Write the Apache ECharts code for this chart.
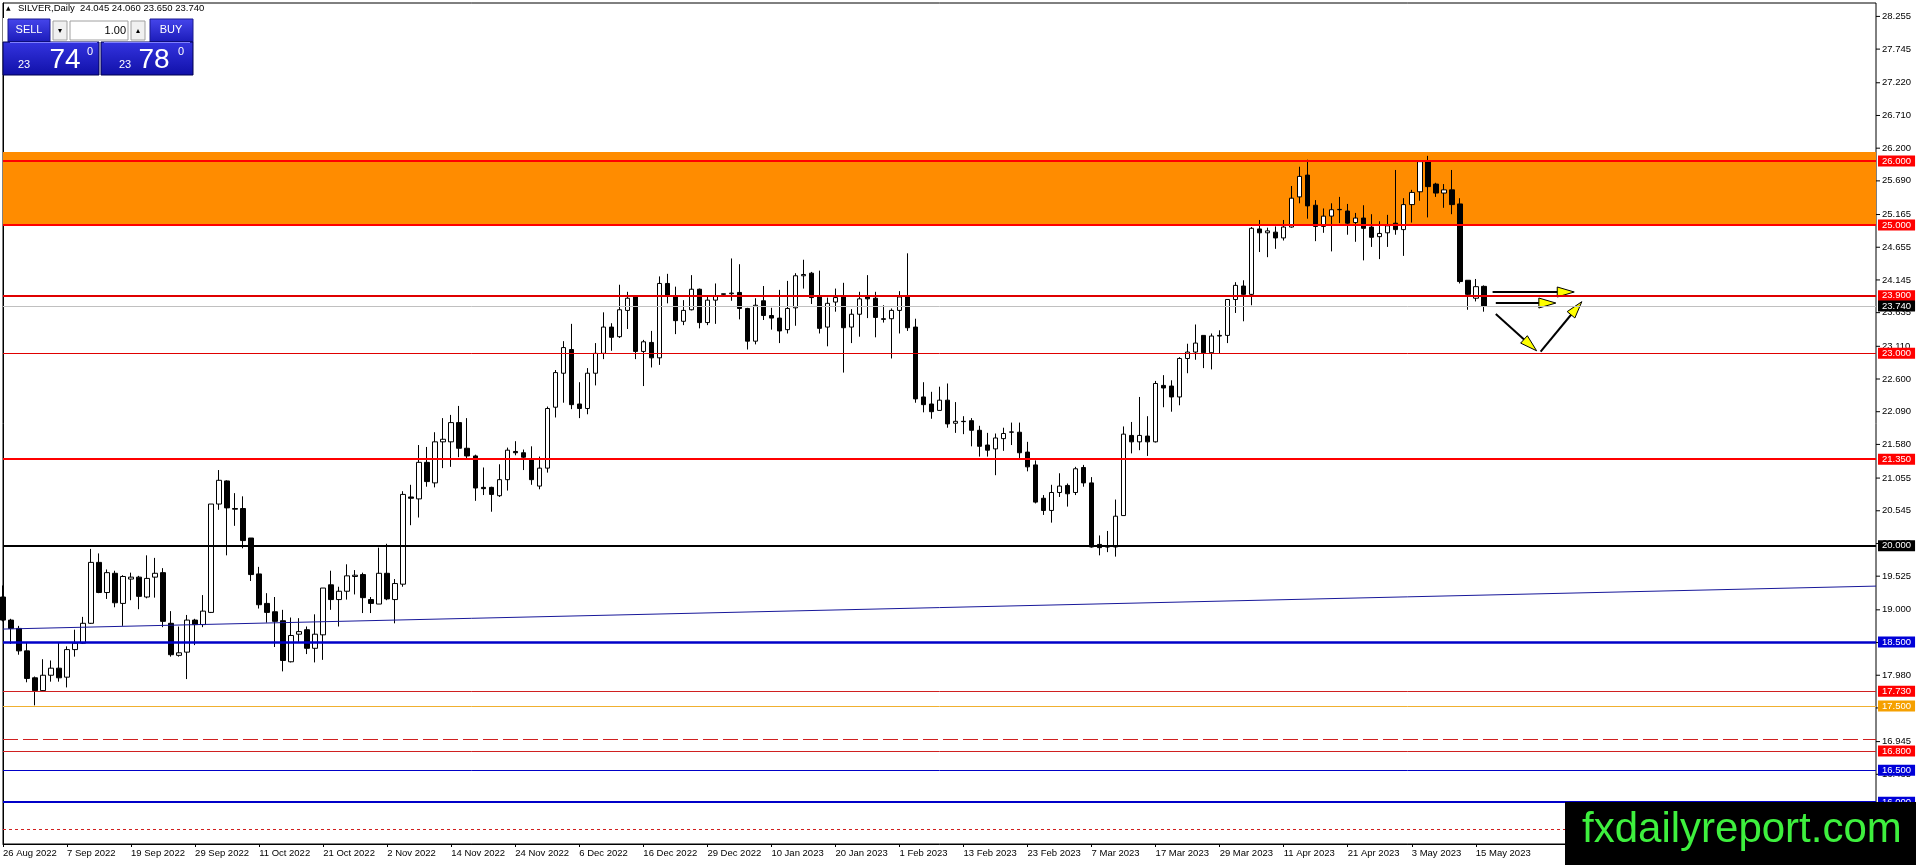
<!DOCTYPE html>
<html><head><meta charset="utf-8">
<script src="https://cdn.jsdelivr.net/npm/echarts@6/dist/echarts.min.js"></script>
<style>html,body{margin:0;padding:0;background:#fff;overflow:hidden}#c{width:1916px;height:865px}</style>
</head><body><div id="c"></div>
<script>
// ---------- DATA ----------
const dateLabels = ['26 Aug 2022','7 Sep 2022','19 Sep 2022','29 Sep 2022','11 Oct 2022','21 Oct 2022','2 Nov 2022','14 Nov 2022','24 Nov 2022','6 Dec 2022','16 Dec 2022','29 Dec 2022','10 Jan 2023','20 Jan 2023','1 Feb 2023','13 Feb 2023','23 Feb 2023','7 Mar 2023','17 Mar 2023','29 Mar 2023','11 Apr 2023','21 Apr 2023','3 May 2023','15 May 2023'];

const opens = [
19.20,18.84,18.71,18.36,17.94,17.74,17.98,18.09,17.95,18.38,
18.48,18.79,19.74,19.27,19.57,19.10,19.48,19.51,19.20,19.51,
19.58,18.79,18.29,18.34,18.84,18.77,18.96,20.65,21.01,20.58,
20.58,20.12,19.56,19.10,18.97,18.83,18.19,18.62,18.69,18.40,
18.61,19.39,19.16,19.29,19.52,19.55,19.16,19.09,19.57,19.16,
19.40,20.76,20.73,21.30,20.98,21.62,21.62,21.92,21.52,21.40,
20.91,20.91,20.78,21.03,21.47,21.45,21.35,20.93,21.21,22.16,
22.69,23.06,22.21,22.14,22.69,23.00,23.41,23.26,23.67,23.88,
23.03,23.17,22.93,24.09,23.88,23.50,23.68,24.00,23.48,23.83,
23.92,23.93,23.95,23.70,23.19,23.82,23.59,23.55,23.37,23.71,
24.21,24.25,23.88,23.41,23.80,23.88,23.41,23.61,23.88,23.86,
23.54,23.54,23.67,23.88,23.41,22.32,22.21,22.11,22.27,21.91,
21.94,21.95,21.80,21.57,21.51,21.67,21.77,21.77,21.46,21.26,
20.74,20.55,20.83,20.94,20.83,21.22,20.98,20.02,19.985,19.98,
20.47,21.72,21.62,21.71,21.62,22.50,22.49,22.32,22.92,23.02,
23.28,23.01,23.27,23.28,23.84,24.05,23.92,24.94,24.88,24.89,
24.80,24.97,25.44,25.78,25.31,24.98,25.14,25.24,25.22,25.04,
25.11,24.97,24.82,24.88,25.03,24.93,25.32,25.52,25.99,25.64,
25.50,25.55,25.33,24.14,23.86,24.045];

const highs = [
19.38,18.86,18.75,18.49,17.96,18.23,18.21,18.49,18.43,18.69,
18.89,19.95,19.88,19.63,19.61,19.54,19.58,19.53,19.85,19.81,
19.65,18.98,18.74,18.92,18.86,19.23,20.65,21.18,21.02,20.82,
20.77,20.12,19.67,19.26,19.20,19.00,18.88,18.87,18.74,18.93,
19.34,19.61,19.36,19.71,19.62,19.58,19.20,19.97,20.03,19.48,
20.85,20.95,21.57,21.54,21.77,21.99,22.04,22.18,21.99,21.42,
21.22,20.92,21.27,21.53,21.63,21.50,21.55,21.39,22.17,22.74,
23.19,23.46,22.55,22.77,23.16,23.64,23.47,24.07,23.96,23.89,
23.21,23.35,24.20,24.24,24.04,23.83,24.22,24.01,23.90,24.09,
23.93,24.48,24.39,23.71,23.86,24.05,23.71,23.99,24.13,24.25,
24.46,24.27,24.29,23.87,24.01,24.10,23.69,23.96,24.22,23.96,
23.75,23.70,23.97,24.56,23.54,22.55,22.40,22.48,22.53,22.24,
22.02,21.99,21.87,21.76,21.75,21.84,21.92,21.92,21.62,21.33,
20.79,20.95,21.13,20.97,21.23,21.26,21.07,20.16,20.23,20.72,
21.86,21.93,22.32,22.02,22.57,22.66,22.58,22.94,23.15,23.45,
23.28,23.31,23.36,23.84,24.11,24.14,24.97,25.08,24.96,24.98,
25.08,25.61,25.91,26.02,25.39,25.26,25.34,25.44,25.33,25.19,
25.31,25.17,25.06,25.16,25.86,25.42,25.55,26.00,26.08,25.66,
25.64,25.86,25.42,24.14,24.16,24.06];

const lows = [
18.82,18.47,18.30,17.87,17.51,17.72,17.88,17.88,17.79,18.27,
18.47,18.78,19.26,19.17,19.04,18.75,19.15,19.01,19.18,19.19,
18.73,18.27,18.27,17.92,18.45,18.73,18.95,20.56,19.85,20.31,
19.96,19.45,19.02,18.80,18.42,18.04,18.18,18.50,18.31,18.18,
18.22,19.00,18.74,19.16,19.24,18.95,18.95,19.09,19.15,18.79,
19.36,20.32,20.44,20.92,20.91,21.21,21.23,21.38,21.36,20.70,
20.79,20.53,20.76,20.86,21.41,21.18,20.95,20.88,21.14,22.00,
22.23,22.13,21.99,22.05,22.50,22.91,23.04,23.24,23.38,22.91,
22.49,22.78,22.82,23.78,23.30,23.44,23.67,23.39,23.44,23.46,
23.91,23.82,23.53,23.06,23.14,23.52,23.37,23.16,23.31,23.43,
24.01,23.77,23.31,23.11,23.65,22.70,23.16,23.26,23.55,23.25,
23.48,22.92,23.31,23.35,22.23,22.08,21.98,22.11,21.84,21.76,
21.74,21.55,21.39,21.39,21.10,21.48,21.57,21.36,21.16,20.66,
20.48,20.36,20.76,20.61,20.79,20.92,19.97,19.85,19.90,19.83,
20.47,21.44,21.49,21.40,21.61,22.16,22.09,22.19,22.69,22.90,
22.77,22.75,22.99,23.16,23.63,23.50,23.75,24.58,24.50,24.63,
24.76,24.96,25.34,25.10,24.75,24.88,24.59,25.03,24.85,24.74,
24.45,24.66,24.47,24.66,24.85,24.52,25.04,25.38,25.12,25.44,
25.27,25.17,24.09,23.68,23.81,23.65];

const closes = [
18.84,18.71,18.36,17.93,17.74,17.98,18.09,17.94,18.38,18.48,
18.79,19.74,19.27,19.58,19.11,19.52,19.51,19.21,19.49,19.57,
18.82,18.30,18.33,18.84,18.77,18.98,20.65,21.02,20.59,20.57,
20.08,19.55,19.08,18.96,18.82,18.21,18.60,18.66,18.40,18.62,
19.34,19.16,19.29,19.53,19.54,19.19,19.10,19.57,19.17,19.41,
20.80,20.74,21.30,21.00,21.62,21.66,21.92,21.52,21.40,20.90,
20.89,20.80,21.03,21.49,21.45,21.38,21.03,21.21,22.14,22.70,
23.09,22.20,22.14,22.69,23.00,23.41,23.25,23.68,23.86,23.03,
23.18,22.93,24.09,23.91,23.51,23.67,24.00,23.48,23.83,23.90,
23.93,23.94,23.70,23.19,23.75,23.59,23.55,23.35,23.70,24.21,
24.23,23.87,23.39,23.78,23.87,23.40,23.61,23.85,23.85,23.56,
23.53,23.67,23.88,23.40,22.29,22.20,22.09,22.27,21.90,21.94,
21.935,21.80,21.55,21.49,21.68,21.75,21.775,21.45,21.23,20.68,
20.55,20.83,20.93,20.81,21.20,20.98,19.98,19.97,19.98,20.46,
21.74,21.62,21.72,21.62,22.53,22.46,22.32,22.92,23.02,23.16,
23.01,23.27,23.28,23.84,24.06,23.92,24.95,24.88,24.91,24.80,
24.97,25.42,25.76,25.30,24.98,25.14,25.24,25.245,25.03,25.11,
24.95,24.81,24.87,24.99,24.93,25.32,25.51,25.99,25.60,25.50,
25.55,25.32,24.12,23.92,24.04,23.74];

const priceTicks = [28.255,27.745,27.220,26.710,26.200,25.690,25.165,24.655,24.145,23.635,23.110,22.600,22.090,21.580,21.055,20.545,20.035,19.525,19.000,18.490,17.980,17.470,16.945,16.435,15.910];

const levelValues = [26.000,25.000,23.900,23.740,23.000,21.350,20.000,18.500,17.730,17.500,16.800,16.500,16.000];
const unlabeledLevels = [16.98,15.58];
const zoneTop = 26.14, zoneBottom = 25.00;
const trendX = [0, 234], trendY = [18.70, 19.37];
const arrowX1 = [186.1, 186.5, 186.5, 192.1];
const arrowY1 = [23.957, 23.785, 23.614, 23.026];
const arrowX2 = [196.3, 194.0, 191.6, 197.25];
const arrowY2 = [23.957, 23.785, 23.040, 23.806];
const barCount = 235;
const titleText = 'SILVER,Daily  24.045 24.060 23.650 23.740';

// ---------- BUILD ----------
const categories = Array.from({length: barCount}, (_, i) => String(i));
const candleData = opens.map((o, i) => [o, closes[i], lows[i], highs[i]]);
const arrowData = arrowX1.map((x, i) => [x, arrowY1[i], arrowX2[i], arrowY2[i]]);
const FONT = 'Liberation Sans, Arial, sans-serif';

const RED = '#ff0000', BLUE = '#0000d8', BLACK = '#000000';
const levelStyle = {
  '26': {c: RED, w: 2, bg: RED},
  '25': {c: RED, w: 2, bg: RED},
  '23.9': {c: '#e00000', w: 2, bg: RED},
  '23.74': {c: '#c0c0c0', w: 1, bg: BLACK},
  '23': {c: '#e00000', w: 1, bg: RED},
  '21.35': {c: RED, w: 2, bg: RED},
  '20': {c: BLACK, w: 2, bg: BLACK},
  '18.5': {c: '#0000c8', w: 2.5, bg: BLUE},
  '17.73': {c: '#d02020', w: 1, bg: RED},
  '17.5': {c: '#f0b030', w: 1, bg: '#f5a000'},
  '16.8': {c: '#d02020', w: 1, bg: RED},
  '16.5': {c: '#0000c8', w: 1, bg: BLUE},
  '16': {c: '#0000c8', w: 2, bg: BLUE}
};
const markLineData = levelValues.map(v => {
  const s = levelStyle[String(v)];
  return {
    yAxis: v,
    lineStyle: {color: s.c, width: s.w, type: 'solid'},
    label: {show: true, position: 'end', distance: 2, formatter: v.toFixed(3),
      color: '#fff', backgroundColor: s.bg, padding: [1, 4, 0, 4], fontSize: 9.5, lineHeight: 10, fontFamily: FONT}
  };
});
markLineData.push({yAxis: unlabeledLevels[0], lineStyle: {color: '#d02020', width: 1, type: [15, 5]}, label: {show: false}});
markLineData.push({yAxis: unlabeledLevels[1], lineStyle: {color: '#d02020', width: 1, type: [3, 3]}, label: {show: false}});

const blueGrad = () => new echarts.graphic.LinearGradient(0, 0, 0, 1, [{offset: 0, color: '#4646ec'}, {offset: 1, color: '#1a1ab8'}]);
const boxGrad = () => new echarts.graphic.LinearGradient(0, 0, 0, 1, [{offset: 0, color: '#3434e0'}, {offset: 1, color: '#1010a8'}]);

const option = {
  animation: false,
  backgroundColor: '#ffffff',
  grid: {left: 3, right: 40, top: 3, bottom: 21, show: true, borderColor: '#000', borderWidth: 1, backgroundColor: 'transparent', containLabel: false, outerBoundsMode: 'none'},
  xAxis: [{
    type: 'category', data: categories, boundaryGap: false,
    axisLine: {show: true, lineStyle: {color: '#000', width: 1}},
    axisTick: {show: true, length: 3, interval: (i) => i % 8 === 0 && i / 8 < dateLabels.length, lineStyle: {color: '#000'}},
    axisLabel: {show: true, interval: (i) => i % 8 === 0 && i / 8 < dateLabels.length,
      formatter: (v, i) => dateLabels[i / 8] || '', align: 'left', color: '#000', fontSize: 9.5, fontFamily: FONT, margin: 4},
    splitLine: {show: false}, splitArea: {show: false}, minorTick: {show: false}, minorSplitLine: {show: false}
  }, {
    type: 'value', min: 0, max: barCount - 1, show: false,
    axisLine: {show: false}, axisTick: {show: false}, axisLabel: {show: false},
    splitLine: {show: false}, splitArea: {show: false}, minorTick: {show: false}, minorSplitLine: {show: false}
  }],
  yAxis: [{
    type: 'value', position: 'right', min: 15.348, max: 28.464, scale: true,
    axisLine: {show: true, lineStyle: {color: '#000', width: 1}},
    axisTick: {show: false},
    axisLabel: {show: true, customValues: priceTicks, margin: 0,
      formatter: (v) => '{t|}{s|}' + Number(v).toFixed(3),
      color: '#000', fontSize: 9.5, fontFamily: FONT,
      rich: {t: {width: 4, height: 1, backgroundColor: '#000'}, s: {width: 2, height: 1}}},
    splitLine: {show: false}, splitArea: {show: false}, minorTick: {show: false}, minorSplitLine: {show: false}
  }],
  series: [
    {
      type: 'line', data: [], z: 1, silent: true,
      markArea: {silent: true, itemStyle: {color: '#ff8c00', opacity: 1}, data: [[{yAxis: zoneTop}, {yAxis: zoneBottom}]]}
    },
    {
      type: 'candlestick', data: candleData, z: 2, barWidth: 5, silent: true,
      itemStyle: {color: '#ffffff', color0: '#000000', borderColor: '#000000', borderColor0: '#000000', borderWidth: 1}
    },
    {
      type: 'line', data: [], z: 3, silent: true,
      markLine: {silent: true, symbol: ['none', 'none'], animation: false, data: markLineData}
    },
    {
      type: 'line', xAxisIndex: 1, z: 3, silent: true, symbol: 'none', showSymbol: false,
      data: [[trendX[0], trendY[0]], [trendX[1], trendY[1]]],
      lineStyle: {color: '#18189a', width: 1}
    },
    {
      type: 'custom', xAxisIndex: 1, z: 4, silent: true,
      encode: {x: [0, 2], y: [1, 3]},
      data: arrowData,
      renderItem: function (params, api) {
        const p1 = api.coord([api.value(0), api.value(1)]);
        const p2 = api.coord([api.value(2), api.value(3)]);
        const dx = p2[0] - p1[0], dy = p2[1] - p1[1];
        const len = Math.hypot(dx, dy), ux = dx / len, uy = dy / len;
        const hl = 17, hw = 5;
        const base = [p2[0] - ux * hl, p2[1] - uy * hl];
        const l = [base[0] - uy * hw, base[1] + ux * hw];
        const r = [base[0] + uy * hw, base[1] - ux * hw];
        return {type: 'group', children: [
          {type: 'line', shape: {x1: p1[0], y1: p1[1], x2: base[0] + ux * 2, y2: base[1] + uy * 2}, style: {stroke: '#000', lineWidth: 2}},
          {type: 'polygon', shape: {points: [p2, l, r]}, style: {fill: '#ffff00', stroke: '#000', lineWidth: 1}}
        ]};
      }
    }
  ],
  graphic: [
    {type: 'text', x: 6, y: 8, z: 100, style: {text: '▲', fill: '#000', font: '6px DejaVu Sans', verticalAlign: 'middle'}},
    {type: 'text', x: 18, y: 8, z: 100, style: {text: titleText, fill: '#000', font: '9.5px ' + FONT, verticalAlign: 'middle'}},
    {type: 'rect', z: 100, shape: {x: 3, y: 18, width: 190, height: 24}, style: {fill: '#ffffff', stroke: null}},
    {type: 'rect', z: 101, shape: {x: 8, y: 19, width: 42, height: 23}, style: {fill: blueGrad(), stroke: '#1a1a90', lineWidth: 1}},
    {type: 'text', z: 102, x: 29, y: 30, style: {text: 'SELL', fill: '#fff', font: '11px ' + FONT, align: 'center', verticalAlign: 'middle'}},
    {type: 'rect', z: 101, shape: {x: 53, y: 21, width: 14, height: 19}, style: {fill: '#f0f0f0', stroke: '#a0a0a0', lineWidth: 1}},
    {type: 'text', z: 102, x: 60, y: 31, style: {text: '▾', fill: '#000', font: '8px DejaVu Sans', align: 'center', verticalAlign: 'middle'}},
    {type: 'rect', z: 101, shape: {x: 70, y: 21, width: 58, height: 19}, style: {fill: '#ffffff', stroke: '#a0a0a0', lineWidth: 1}},
    {type: 'text', z: 102, x: 126, y: 31, style: {text: '1.00', fill: '#000', font: '11px ' + FONT, align: 'right', verticalAlign: 'middle'}},
    {type: 'rect', z: 101, shape: {x: 131, y: 21, width: 14, height: 19}, style: {fill: '#f0f0f0', stroke: '#a0a0a0', lineWidth: 1}},
    {type: 'text', z: 102, x: 138, y: 31, style: {text: '▴', fill: '#000', font: '8px DejaVu Sans', align: 'center', verticalAlign: 'middle'}},
    {type: 'rect', z: 101, shape: {x: 150, y: 19, width: 43, height: 23}, style: {fill: blueGrad(), stroke: '#1a1a90', lineWidth: 1}},
    {type: 'text', z: 102, x: 171, y: 30, style: {text: 'BUY', fill: '#fff', font: '11px ' + FONT, align: 'center', verticalAlign: 'middle'}},
    {type: 'rect', z: 101, shape: {x: 3, y: 42, width: 96, height: 33}, style: {fill: boxGrad(), stroke: '#000050', lineWidth: 1}},
    {type: 'rect', z: 101, shape: {x: 101, y: 42, width: 92, height: 33}, style: {fill: boxGrad(), stroke: '#000050', lineWidth: 1}},
    {type: 'line', z: 102, shape: {x1: 10, y1: 42.5, x2: 97, y2: 42.5}, style: {stroke: '#8080ff', lineWidth: 1}},
    {type: 'line', z: 102, shape: {x1: 104, y1: 42.5, x2: 190, y2: 42.5}, style: {stroke: '#8080ff', lineWidth: 1}},
    {type: 'text', z: 102, x: 24, y: 65, style: {text: '23', fill: '#fff', font: '11px ' + FONT, align: 'center', verticalAlign: 'middle'}},
    {type: 'text', z: 102, x: 65, y: 60, style: {text: '74', fill: '#fff', font: '28px ' + FONT, align: 'center', verticalAlign: 'middle'}},
    {type: 'text', z: 102, x: 90, y: 52, style: {text: '0', fill: '#fff', font: '11px ' + FONT, align: 'center', verticalAlign: 'middle'}},
    {type: 'text', z: 102, x: 125, y: 65, style: {text: '23', fill: '#fff', font: '11px ' + FONT, align: 'center', verticalAlign: 'middle'}},
    {type: 'text', z: 102, x: 154, y: 60, style: {text: '78', fill: '#fff', font: '28px ' + FONT, align: 'center', verticalAlign: 'middle'}},
    {type: 'text', z: 102, x: 181, y: 52, style: {text: '0', fill: '#fff', font: '11px ' + FONT, align: 'center', verticalAlign: 'middle'}},
    {type: 'rect', z: 110, shape: {x: 1565, y: 802, width: 351, height: 63}, style: {fill: '#000000'}},
    {type: 'text', z: 111, x: 1582, y: 830, style: {text: 'fxdailyreport.com', fill: '#3ef03e', font: '42px ' + FONT, align: 'left', verticalAlign: 'middle'}}
  ]
};

const chart = echarts.init(document.getElementById('c'), null, {renderer: 'canvas', width: 1916, height: 865});
chart.setOption(option);
</script>
</body></html>
